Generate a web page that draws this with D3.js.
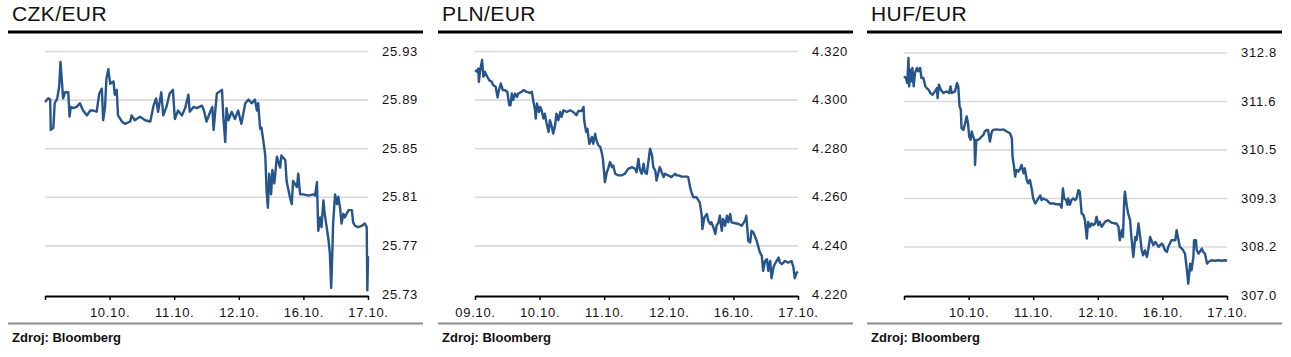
<!DOCTYPE html>
<html>
<head>
<meta charset="utf-8">
<script src="https://cdn.jsdelivr.net/npm/d3@7"></script>
<style>
  html, body { margin: 0; padding: 0; background: #fff; }
  svg { display: block; font-family: "Liberation Sans", Arial, sans-serif; }
</style>
</head>
<body>
<svg id="chart" width="1291" height="357"></svg>
<script>
// ---------- data ----------
const titles = ["CZK/EUR", "PLN/EUR", "HUF/EUR"];
const sourceText = "Zdroj: Bloomberg";

const czkDays = ["", "10.10.", "11.10.", "12.10.", "16.10.", "17.10."];
const plnDays = ["09.10.", "10.10.", "11.10.", "12.10.", "16.10.", "17.10."];
const hufDays = ["", "10.10.", "11.10.", "12.10.", "16.10.", "17.10."];

const czkTicks = [25.73, 25.77, 25.81, 25.85, 25.89, 25.93];
const czkTickLabels = ["25.73", "25.77", "25.81", "25.85", "25.89", "25.93"];
const plnTicks = [4.22, 4.24, 4.26, 4.28, 4.30, 4.32];
const plnTickLabels = ["4.220", "4.240", "4.260", "4.280", "4.300", "4.320"];
const hufTicks = [307.0, 308.16, 309.32, 310.48, 311.64, 312.8];
const hufTickLabels = ["307.0", "308.2", "309.3", "310.5", "311.6", "312.8"];

// time in trading-day units (0 = 09.10., 5 = 17.10.)
const czkTime = [0.00,0.05,0.08,0.09,0.13,0.15,0.19,0.22,0.24,0.26,0.28,0.31,0.36,0.38,0.40,0.44,0.49,0.54,0.59,0.65,0.70,0.75,0.80,0.84,0.88,0.90,0.93,0.95,0.98,1.01,1.06,1.08,1.11,1.13,1.19,1.24,1.32,1.34,1.39,1.47,1.55,1.63,1.68,1.72,1.75,1.80,1.83,1.88,1.93,1.98,2.01,2.06,2.12,2.17,2.22,2.24,2.30,2.35,2.43,2.46,2.50,2.55,2.59,2.61,2.63,2.66,2.74,2.76,2.79,2.81,2.84,2.89,2.94,2.99,3.04,3.10,3.15,3.20,3.25,3.28,3.30,3.33,3.35,3.38,3.41,3.43,3.45,3.47,3.50,3.52,3.55,3.59,3.64,3.66,3.72,3.74,3.79,3.82,3.84,3.90,3.92,3.95,4.00,4.08,4.15,4.18,4.21,4.23,4.26,4.28,4.31,4.33,4.36,4.39,4.41,4.43,4.45,4.46,4.49,4.52,4.54,4.57,4.59,4.62,4.64,4.70,4.75,4.77,4.80,4.85,4.90,4.95,4.98,4.99,5.00];
const czkRate = [25.888,25.891,25.890,25.865,25.867,25.887,25.891,25.901,25.921,25.906,25.891,25.896,25.896,25.876,25.884,25.883,25.884,25.887,25.881,25.877,25.881,25.881,25.880,25.895,25.899,25.873,25.884,25.907,25.915,25.903,25.905,25.894,25.898,25.877,25.872,25.870,25.872,25.877,25.873,25.876,25.873,25.872,25.885,25.891,25.880,25.896,25.877,25.884,25.895,25.898,25.874,25.881,25.877,25.883,25.894,25.880,25.884,25.883,25.885,25.881,25.872,25.879,25.884,25.865,25.877,25.895,25.898,25.876,25.855,25.883,25.873,25.880,25.874,25.881,25.870,25.887,25.890,25.887,25.890,25.881,25.887,25.866,25.867,25.856,25.844,25.815,25.801,25.829,25.812,25.832,25.821,25.843,25.834,25.844,25.840,25.823,25.810,25.804,25.823,25.818,25.829,25.812,25.812,25.811,25.812,25.811,25.822,25.782,25.793,25.785,25.807,25.796,25.785,25.774,25.763,25.735,25.768,25.788,25.812,25.804,25.810,25.800,25.788,25.796,25.793,25.799,25.799,25.789,25.786,25.785,25.786,25.788,25.785,25.733,25.761];

const plnTime = [0.00,0.03,0.05,0.06,0.08,0.11,0.13,0.15,0.19,0.22,0.26,0.28,0.32,0.35,0.37,0.40,0.43,0.46,0.50,0.53,0.55,0.57,0.59,0.62,0.65,0.67,0.72,0.75,0.80,0.85,0.88,0.90,0.93,0.94,0.96,0.99,1.01,1.03,1.06,1.08,1.11,1.14,1.16,1.19,1.21,1.24,1.26,1.29,1.32,1.34,1.37,1.42,1.47,1.52,1.57,1.60,1.65,1.68,1.69,1.72,1.74,1.77,1.81,1.83,1.86,1.88,1.91,1.94,1.96,1.98,2.00,2.01,2.04,2.06,2.09,2.12,2.14,2.17,2.22,2.27,2.32,2.37,2.43,2.48,2.50,2.53,2.55,2.58,2.61,2.63,2.66,2.71,2.74,2.76,2.79,2.81,2.84,2.86,2.89,2.92,2.94,2.99,3.04,3.10,3.12,3.15,3.20,3.28,3.30,3.33,3.35,3.38,3.43,3.46,3.48,3.51,3.52,3.55,3.59,3.61,3.64,3.66,3.69,3.72,3.74,3.77,3.79,3.82,3.84,3.87,3.90,3.92,3.95,3.97,4.03,4.08,4.13,4.18,4.20,4.23,4.26,4.28,4.31,4.33,4.36,4.39,4.41,4.44,4.46,4.49,4.52,4.54,4.57,4.59,4.62,4.64,4.67,4.70,4.72,4.75,4.80,4.85,4.90,4.93,4.95,4.98,5.00];
const plnRate = [4.3121,4.3115,4.3128,4.3073,4.3121,4.3163,4.3094,4.3115,4.3094,4.3080,4.3073,4.3060,4.3053,4.3009,4.3039,4.3066,4.3039,4.3039,4.3032,4.2977,4.2977,4.3025,4.2998,4.3025,4.3011,4.3025,4.3032,4.3039,4.3032,4.3028,4.3032,4.2998,4.2956,4.2922,4.2984,4.2949,4.2970,4.2956,4.2922,4.2942,4.2901,4.2867,4.2915,4.2887,4.2860,4.2894,4.2942,4.2915,4.2949,4.2929,4.2956,4.2949,4.2956,4.2949,4.2936,4.2953,4.2953,4.2970,4.2915,4.2867,4.2880,4.2818,4.2846,4.2818,4.2860,4.2832,4.2812,4.2805,4.2784,4.2756,4.2695,4.2660,4.2701,4.2715,4.2743,4.2722,4.2729,4.2695,4.2688,4.2688,4.2695,4.2715,4.2722,4.2715,4.2701,4.2756,4.2715,4.2695,4.2736,4.2701,4.2695,4.2798,4.2770,4.2722,4.2708,4.2667,4.2701,4.2722,4.2701,4.2681,4.2695,4.2688,4.2681,4.2695,4.2688,4.2688,4.2683,4.2683,4.2681,4.2639,4.2619,4.2598,4.2598,4.2584,4.2577,4.2522,4.2467,4.2515,4.2529,4.2502,4.2488,4.2495,4.2474,4.2447,4.2481,4.2495,4.2522,4.2460,4.2509,4.2481,4.2522,4.2495,4.2529,4.2495,4.2491,4.2488,4.2481,4.2502,4.2522,4.2419,4.2412,4.2460,4.2453,4.2440,4.2419,4.2391,4.2371,4.2357,4.2295,4.2336,4.2343,4.2295,4.2336,4.2265,4.2309,4.2323,4.2336,4.2350,4.2329,4.2323,4.2336,4.2329,4.2336,4.2309,4.2265,4.2288,4.2292];

const hufTime = [0.00,0.03,0.05,0.07,0.08,0.10,0.12,0.13,0.15,0.17,0.20,0.22,0.25,0.27,0.30,0.33,0.35,0.38,0.41,0.44,0.48,0.51,0.52,0.54,0.57,0.61,0.66,0.70,0.72,0.74,0.79,0.82,0.84,0.86,0.88,0.89,0.92,0.94,0.97,0.99,1.01,1.03,1.05,1.07,1.09,1.10,1.12,1.15,1.18,1.20,1.23,1.25,1.28,1.30,1.33,1.36,1.38,1.43,1.49,1.54,1.59,1.64,1.67,1.68,1.70,1.72,1.74,1.77,1.80,1.82,1.85,1.87,1.90,1.92,1.95,1.98,2.00,2.03,2.05,2.08,2.11,2.13,2.16,2.18,2.21,2.26,2.31,2.36,2.41,2.44,2.46,2.48,2.51,2.53,2.54,2.57,2.59,2.62,2.65,2.67,2.70,2.72,2.75,2.78,2.80,2.83,2.85,2.88,2.90,2.93,2.96,2.98,3.01,3.03,3.06,3.11,3.16,3.21,3.27,3.29,3.32,3.34,3.37,3.39,3.41,3.42,3.45,3.47,3.50,3.52,3.55,3.58,3.60,3.63,3.65,3.68,3.70,3.73,3.76,3.78,3.81,3.83,3.86,3.89,3.94,3.99,4.01,4.04,4.07,4.09,4.14,4.20,4.22,4.25,4.27,4.30,4.32,4.35,4.38,4.40,4.43,4.45,4.48,4.49,4.52,4.53,4.56,4.61,4.63,4.66,4.69,4.71,4.76,4.81,4.87,4.92,4.97,5.00];
const hufRate = [312.23,312.19,312.07,312.67,311.99,312.39,312.11,312.43,311.99,312.31,312.43,312.35,312.43,312.19,312.19,311.99,311.95,311.91,311.83,311.79,311.87,311.95,311.71,312.03,311.91,311.83,311.87,311.83,311.99,311.83,311.87,312.07,311.99,311.51,311.43,310.99,310.95,311.07,311.27,311.11,310.79,310.71,310.91,310.79,310.71,310.11,310.71,310.71,310.75,310.79,310.83,310.91,310.95,310.95,310.67,310.91,310.95,310.96,310.95,310.96,310.91,310.87,310.75,310.31,310.11,309.83,309.99,309.95,310.03,310.11,309.91,310.03,309.75,309.67,309.75,309.51,309.31,309.19,309.23,309.31,309.38,309.27,309.31,309.29,309.27,309.19,309.19,309.17,309.17,309.09,309.55,309.31,309.27,309.16,309.31,309.16,309.27,309.31,309.27,309.31,309.51,309.47,308.95,308.91,308.79,308.35,308.75,308.63,308.71,308.67,308.71,308.87,308.67,308.75,308.63,308.75,308.79,308.73,308.71,308.71,308.63,308.31,308.55,308.39,309.31,309.47,309.12,308.95,308.79,308.39,307.91,308.39,308.31,308.71,308.47,308.07,307.95,308.07,307.91,308.07,308.39,308.31,308.19,308.27,308.15,308.23,308.19,308.07,308.03,308.15,308.31,308.31,308.55,308.31,308.15,308.11,308.07,307.99,307.59,307.27,307.75,307.59,307.91,308.31,308.31,308.07,307.99,308.11,308.03,307.99,307.75,307.79,307.83,307.82,307.83,307.82,307.83,307.82,307.85];

// ---------- drawing ----------
const svg = d3.select("#chart");
const lineColor = "#26548d";

const panels = [
  { ox: 0,   title: titles[0], time: czkTime, rate: czkRate, ticks: czkTicks, labels: czkTickLabels, days: czkDays, yr: [294, 51] },
  { ox: 430, title: titles[1], time: plnTime, rate: plnRate, ticks: plnTicks, labels: plnTickLabels, days: plnDays, yr: [294, 51] },
  { ox: 859, title: titles[2], time: hufTime, rate: hufRate, ticks: hufTicks, labels: hufTickLabels, days: hufDays, yr: [295, 52.5] }
];

panels.forEach(p => {
  const g = svg.append("g").attr("transform", `translate(${p.ox},0)`);

  g.append("text").attr("x", 12).attr("y", 21)
    .attr("font-size", 21).attr("letter-spacing", 0.4).attr("fill", "#111")
    .text(p.title);

  g.append("line").attr("x1", 8).attr("x2", 423).attr("y1", 32).attr("y2", 32)
    .attr("stroke", "#000").attr("stroke-width", 3);

  const x = d3.scaleLinear().domain([0, 5]).range([45, 368]);
  const y = d3.scaleLinear().domain([p.ticks[0], p.ticks[p.ticks.length - 1]]).range(p.yr);

  // gridlines + right labels
  const yAxis = d3.axisRight(y).tickValues(p.ticks)
    .tickSize(-(x.range()[1] - x.range()[0])).tickPadding(14)
    .tickFormat((d, i) => p.labels[i]);
  const ya = g.append("g").attr("transform", `translate(${x.range()[1]},0)`).call(yAxis);
  ya.select(".domain").remove();
  ya.selectAll(".tick line").attr("stroke", "#d9d9d9").attr("stroke-width", 1.6)
    .filter((d, i) => i === 0).remove();
  ya.selectAll(".tick text").attr("font-size", 13).attr("letter-spacing", 0.7)
    .attr("fill", "#111").attr("font-family", "Liberation Sans, Arial, sans-serif");

  // x axis
  const xAxis = d3.axisBottom(x).tickValues(d3.range(p.days.length))
    .tickSize(4).tickSizeOuter(0).tickPadding(8)
    .tickFormat((d, i) => p.days[i]);
  const xa = g.append("g").attr("transform", "translate(0,296)").call(xAxis);
  xa.select(".domain").attr("stroke", "#000").attr("stroke-width", 2);
  xa.selectAll(".tick line").attr("stroke", "#000").attr("stroke-width", 1.5);
  xa.selectAll(".tick text").attr("font-size", 13).attr("letter-spacing", 0.7)
    .attr("fill", "#111").attr("font-family", "Liberation Sans, Arial, sans-serif");

  // series line
  const data = p.time.map((t, i) => [t, p.rate[i]]);
  g.append("path").datum(data)
    .attr("fill", "none").attr("stroke", lineColor).attr("stroke-width", 2.4)
    .attr("stroke-linejoin", "round")
    .attr("d", d3.line().x(d => x(d[0])).y(d => y(d[1])));

  // bottom rule + source
  g.append("line").attr("x1", 8).attr("x2", 423).attr("y1", 323.5).attr("y2", 323.5)
    .attr("stroke", "#8c8c8c").attr("stroke-width", 2);
  g.append("text").attr("x", 12).attr("y", 342)
    .attr("font-size", 13).attr("font-weight", "bold").attr("fill", "#111")
    .text(sourceText);
});
</script>
</body>
</html>
